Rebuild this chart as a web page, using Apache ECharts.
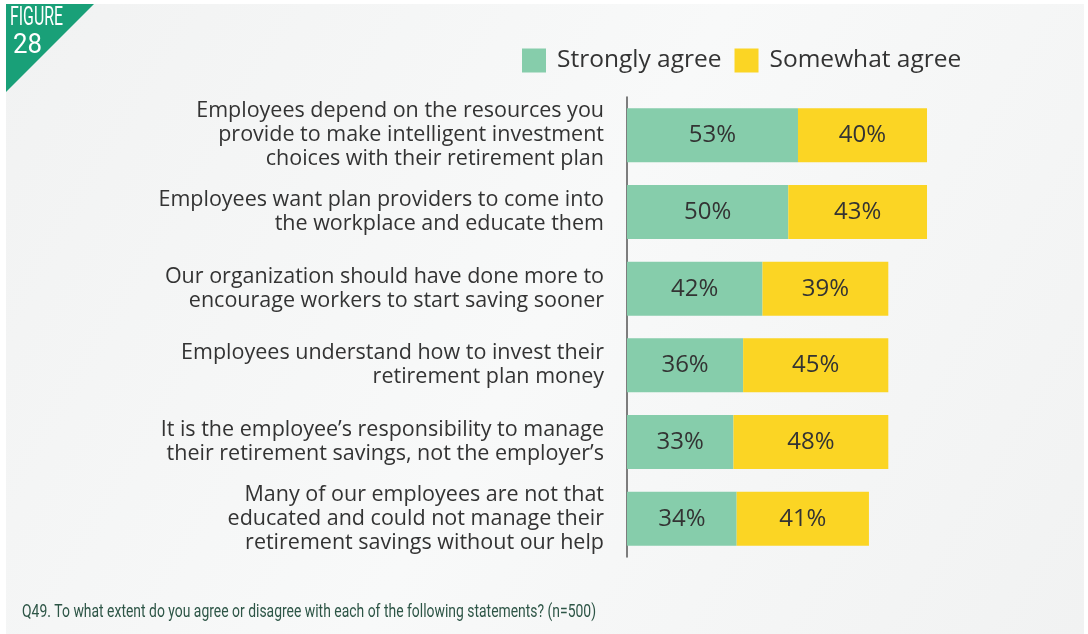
<!DOCTYPE html>
<html>
<head>
<meta charset="utf-8">
<style>
  html, body { margin: 0; padding: 0; background: #ffffff; }
  #chart { width: 1088px; height: 634px; }
</style>
<script src="https://cdn.jsdelivr.net/npm/echarts@6/dist/echarts.min.js"></script>
</head>
<body>
<div id="chart"></div>
<script>
// Survey statements (top to bottom)
const statements = [
  'Employees depend on the resources you\nprovide to make intelligent investment\nchoices with their retirement plan',
  'Employees want plan providers to come into\nthe workplace and educate them',
  'Our organization should have done more to\nencourage workers to start saving sooner',
  'Employees understand how to invest their\nretirement plan money',
  'It is the employee\u2019s responsibility to manage\ntheir retirement savings, not the employer\u2019s',
  'Many of our employees are not that\neducated and could not manage their\nretirement savings without our help'
];
// Share of respondents, in percent
const stronglyAgree = [53, 50, 42, 36, 33, 34];
const somewhatAgree = [40, 43, 39, 45, 48, 41];
const seriesNames = ['Strongly agree', 'Somewhat agree'];
const footnote = 'Q49. To what extent do you agree or disagree with each of the following statements? (n=500)';

const GREEN = '#86cdab';
const YELLOW = '#fbd524';
const TEXT = '#333333';
const FONT = '"Open Sans", "Noto Sans", sans-serif';
const NARROW = 'Roboto, "Noto Sans", sans-serif';

// Horizontal squeeze factor so a text run fills a given width (condensed look)
const measureCtx = document.createElement('canvas').getContext('2d');
function squeeze(text, font, width) {
  measureCtx.font = font;
  return width / measureCtx.measureText(text).width;
}

const footFont = '19px ' + NARROW;
const figFont = '25px ' + NARROW;
const numFont = '28px ' + NARROW;

const chart = echarts.init(document.getElementById('chart'), null, { renderer: 'canvas' });

const barLabel = {
  show: true,
  position: 'inside',
  formatter: p => p.value + '%',
  color: TEXT,
  fontFamily: FONT,
  fontSize: 24
};

chart.setOption({
  backgroundColor: '#ffffff',
  animation: false,
  graphic: [
    {
      type: 'rect', z: -10, silent: true,
      shape: { x: 6, y: 4, width: 1078, height: 630 },
      style: {
        fill: new echarts.graphic.LinearGradient(0, 0, 1, 1, [
          { offset: 0, color: '#f1f2f2' },
          { offset: 0.5, color: '#f8f9f9' },
          { offset: 1, color: '#f1f2f2' }
        ])
      }
    },
    {
      type: 'polygon', z: 10, silent: true,
      shape: { points: [[6, 4], [94, 4], [6, 92]] },
      style: { fill: '#19a078' }
    },
    {
      type: 'text', z: 11, x: 10, y: 6,
      scaleX: squeeze('FIGURE', figFont, 53),
      style: { text: 'FIGURE', fill: '#ffffff', font: figFont, textVerticalAlign: 'top' }
    },
    {
      type: 'text', z: 11, x: 13, y: 32,
      scaleX: squeeze('28', numFont, 29),
      style: { text: '28', fill: '#ffffff', font: numFont, textVerticalAlign: 'top' }
    },
    {
      type: 'text', z: 11, x: 22, y: 603,
      scaleX: squeeze(footnote, footFont, 574),
      style: { text: footnote, fill: '#2d5546', font: footFont, textVerticalAlign: 'top' }
    }
  ],
  legend: {
    data: seriesNames,
    left: 517,
    top: 43,
    itemWidth: 24,
    itemHeight: 24,
    itemGap: 13,
    icon: 'rect',
    textStyle: { color: TEXT, fontFamily: FONT, fontSize: 24.5, padding: [0, 0, 0, 6] }
  },
  grid: { left: 627, width: 322.6, top: 97, bottom: 77, containLabel: false },
  xAxis: {
    type: 'value', min: 0, max: 100,
    show: false
  },
  yAxis: {
    type: 'category',
    inverse: true,
    data: statements,
    axisLine: { show: true, lineStyle: { color: '#555555', width: 1.5 } },
    axisTick: { show: false },
    axisLabel: {
      margin: 23,
      color: TEXT,
      fontFamily: FONT,
      fontSize: 21.5,
      lineHeight: 24,
      align: 'right'
    }
  },
  series: [
    {
      name: seriesNames[0], type: 'bar', stack: 'agree',
      data: stronglyAgree, barWidth: 54,
      itemStyle: { color: GREEN },
      label: barLabel
    },
    {
      name: seriesNames[1], type: 'bar', stack: 'agree',
      data: somewhatAgree, barWidth: 54,
      itemStyle: { color: YELLOW },
      label: barLabel
    }
  ]
});
</script>
</body>
</html>
